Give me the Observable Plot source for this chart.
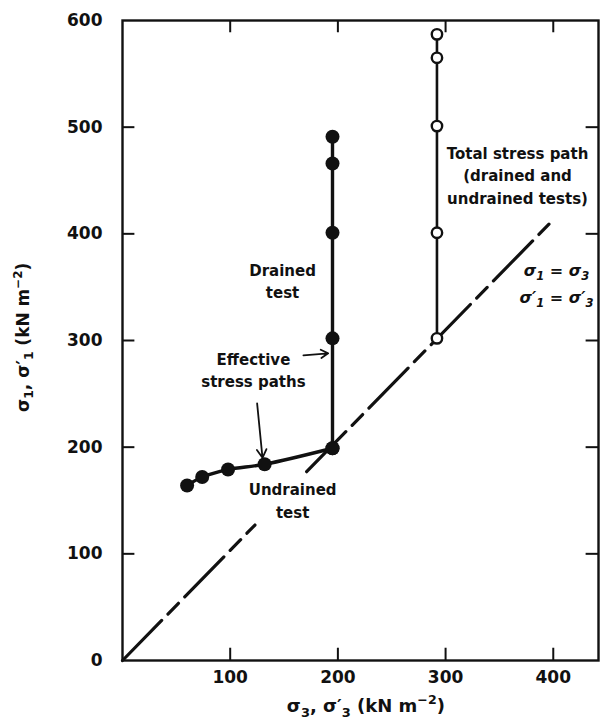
<!DOCTYPE html>
<html><head><meta charset="utf-8">
<script src="https://cdn.jsdelivr.net/npm/d3@7"></script>
<script src="https://cdn.jsdelivr.net/npm/@observablehq/plot@0.6"></script>
<style>body{margin:0;background:#fff} svg{display:block}</style>
</head><body><div id="chart"></div>
<script>
// Tick values
const xTicks = [100, 200, 300, 400];
const yTicks = [0, 100, 200, 300, 400, 500, 600];
const yInnerTicks = [100, 200, 300, 400, 500];

// Undrained test effective stress path (filled dots)
const undrainedS3 = [60, 74, 98, 132, 195];
const undrainedS1 = [164, 172, 179, 184, 199];
// Drained test effective stress path (filled dots)
const drainedS3 = [195, 195, 195, 195, 195];
const drainedS1 = [199, 302, 401, 466, 491];
// Total stress path (open circles)
const totalS3 = [292, 292, 292, 292, 292];
const totalS1 = [302, 401, 501, 565, 587];
// sigma1 = sigma3 line (broken for the label)
const diagonalS3 = [0, 123, 171, 396];
const diagonalS1 = [0, 127, 177, 409];
const diagonalPart = ["a", "a", "b", "b"];

// Annotation arrows
const arrowFromS3 = [168, 125], arrowFromS1 = [286, 241];
const arrowToS3 = [191, 130], arrowToS1 = [288, 190];

// Annotation labels
const labels = ["Drained\ntest", "Effective\nstress paths", "Undrained\ntest", "Total stress path\n(drained and\nundrained tests)"];
const labelS3 = [148.6, 121.6, 158, 366.8];
const labelS1 = [357, 273.7, 151, 456];
const eqLabel = ["σ_1 = σ_3\nσ′_1 = σ′_3"];
const eqS3 = [403], eqS1 = [356];

const xLabel = "σ_3, σ′_3 (kN m^{−2})";
const yLabel = "σ_1, σ′_1 (kN m^{−2})";

const idx = a => d3.range(a.length);
const ink = "#111";
const tickLen = 11.5; // inward tick length in scale units

const chart = Plot.plot({
  width: 604, height: 720,
  marginLeft: 122, marginRight: 6, marginTop: 20, marginBottom: 60,
  style: {fontFamily: "'DejaVu Sans', sans-serif", fontWeight: "bold", fontSize: "15px", color: ink, background: "#fff"},
  x: {domain: [0, 442]},
  y: {domain: [0, 600]},
  marks: [
    Plot.frame({stroke: ink, strokeWidth: 2.4}),
    Plot.axisX(xTicks, {tickSize: 0, tickPadding: 10, fontSize: 17, label: null}),
    Plot.axisY(yTicks, {tickSize: 0, tickPadding: 20, fontSize: 17, label: null}),
    Plot.line(idx(diagonalS3), {x: i => diagonalS3[i], y: i => diagonalS1[i], z: i => diagonalPart[i], stroke: ink, strokeWidth: 3.2, strokeDasharray: "56,9,15,9"}),
    Plot.line(idx(undrainedS3), {x: i => undrainedS3[i], y: i => undrainedS1[i], stroke: ink, strokeWidth: 3.4, curve: "catmull-rom"}),
    Plot.line(idx(drainedS3), {x: i => drainedS3[i], y: i => drainedS1[i], stroke: ink, strokeWidth: 3.4}),
    Plot.line(idx(totalS3), {x: i => totalS3[i], y: i => totalS1[i], stroke: ink, strokeWidth: 2.6}),
    Plot.dot(idx(undrainedS3), {x: i => undrainedS3[i], y: i => undrainedS1[i], r: 7, fill: ink}),
    Plot.dot(idx(drainedS3), {x: i => drainedS3[i], y: i => drainedS1[i], r: 7, fill: ink}),
    Plot.dot(idx(totalS3), {x: i => totalS3[i], y: i => totalS1[i], r: 5.2, fill: "#fff", stroke: ink, strokeWidth: 2.4}),
    Plot.arrow(idx(arrowFromS3), {x1: i => arrowFromS3[i], y1: i => arrowFromS1[i], x2: i => arrowToS3[i], y2: i => arrowToS1[i], stroke: ink, strokeWidth: 1.8, headLength: 8}),
    Plot.text(labels, {x: (d, i) => labelS3[i], y: (d, i) => labelS1[i], text: d => d, lineHeight: 1.5, fontSize: 15, fontWeight: "bold", fill: ink}),
    Plot.text(eqLabel, {x: (d, i) => eqS3[i], y: (d, i) => eqS1[i], text: d => d, lineHeight: 1.7, fontSize: 16, fontStyle: "italic", fontWeight: "bold", fill: ink}),
    Plot.text([xLabel], {x: [226], frameAnchor: "bottom", dy: 46, lineAnchor: "middle", textAnchor: "middle", text: d => d, fontSize: 18, fontWeight: "bold", fill: ink}),
    Plot.text([yLabel], {y: [303], frameAnchor: "left", dx: -99, rotate: -90, lineAnchor: "middle", textAnchor: "middle", text: d => d, fontSize: 17, fontWeight: "bold", fill: ink}),
    // inward tick marks on all four sides
    Plot.ruleX(xTicks, {x: d => d, y1: 0, y2: tickLen, stroke: ink, strokeWidth: 2}),
    Plot.ruleX(xTicks, {x: d => d, y1: 600 - tickLen, y2: 600, stroke: ink, strokeWidth: 2}),
    Plot.ruleY(yInnerTicks, {y: d => d, x1: 0, x2: tickLen, stroke: ink, strokeWidth: 2}),
    Plot.ruleY(yInnerTicks, {y: d => d, x1: 442 - tickLen, x2: 442, stroke: ink, strokeWidth: 2})
  ]
});

// Turn _x (subscript) and ^{..} (superscript) markup into real tspans
const SVGNS = "http://www.w3.org/2000/svg";
function richify(node, str) {
  node.textContent = "";
  const re = /_(\w)|\^\{([^}]*)\}|([^_^]+)/g;
  let m;
  while ((m = re.exec(str))) {
    const t = document.createElementNS(SVGNS, "tspan");
    if (m[1]) { t.textContent = m[1]; t.style.fontSize = "72%"; t.setAttribute("baseline-shift", "-0.35em"); }
    else if (m[2]) { t.textContent = m[2]; t.style.fontSize = "70%"; t.setAttribute("baseline-shift", "0.6em"); }
    else t.textContent = m[3];
    node.appendChild(t);
  }
}
chart.querySelectorAll("text").forEach(el => {
  if (!/_\w|\^\{/.test(el.textContent)) return;
  const lines = el.querySelectorAll("tspan");
  if (lines.length) lines.forEach(ts => richify(ts, ts.textContent));
  else richify(el, el.textContent);
});
document.getElementById("chart").append(chart);
</script>
</body></html>
